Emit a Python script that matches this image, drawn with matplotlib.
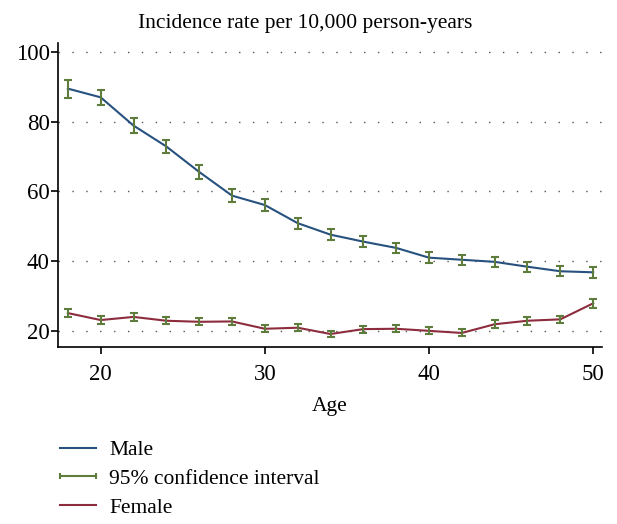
import matplotlib
matplotlib.use('Agg')
import matplotlib.pyplot as plt
from matplotlib.lines import Line2D
import numpy as np

# Data
ages = [18, 20, 22, 24, 26, 28, 30, 32, 34, 36, 38, 40, 42, 44, 46, 48, 50]
male = [89.5, 87.0, 78.9, 72.9, 65.6, 58.8, 56.1, 50.9, 47.6, 45.6, 43.8, 41.0, 40.4, 39.8, 38.4, 37.1, 36.8]
male_ci = [2.6, 2.2, 2.1, 2.0, 1.9, 1.8, 1.7, 1.6, 1.6, 1.5, 1.5, 1.5, 1.5, 1.4, 1.4, 1.4, 1.5]
female = [25.1, 23.1, 24.0, 22.9, 22.6, 22.7, 20.6, 20.9, 19.1, 20.5, 20.6, 20.0, 19.4, 21.9, 22.9, 23.3, 27.9]
female_ci = [1.2, 1.1, 1.1, 1.0, 1.0, 1.0, 1.0, 1.0, 1.0, 1.0, 1.0, 1.0, 1.0, 1.1, 1.1, 1.1, 1.3]
yticks = [20, 40, 60, 80, 100]
xticks = [20, 30, 40, 50]

male_color = '#27517f'
female_color = '#8c2c3c'
ci_color = '#5e7d3c'

plt.rcParams['font.family'] = ['Liberation Serif', 'DejaVu Serif']

fig = plt.figure(figsize=(6.17, 5.24), dpi=100)
ax = fig.add_axes([0.094, 0.338, 0.882, 0.580])

# Horizontal dotted grid
for y in yticks:
    ax.axhline(y, color='#555555', linestyle=(0, (1, 9)), linewidth=1.0, zorder=0)

ax.plot(ages, male, color=male_color, linewidth=1.5, zorder=2)
ax.plot(ages, female, color=female_color, linewidth=1.5, zorder=2)
ax.errorbar(ages, male, yerr=male_ci, fmt='none', ecolor=ci_color,
            elinewidth=1.5, capsize=2.8, capthick=1.5, zorder=3)
ax.errorbar(ages, female, yerr=female_ci, fmt='none', ecolor=ci_color,
            elinewidth=1.5, capsize=2.8, capthick=1.5, zorder=3)

ax.set_xlim(17.4, 50.55)
ax.set_ylim(15.4, 102.6)
ax.set_xticks(xticks)
ax.set_yticks(yticks)
ax.tick_params(labelsize=16.5, length=5, width=1.2, direction='out')
ax.tick_params(axis='y', pad=1)
ax.tick_params(axis='x', pad=7)
for side in ['top', 'right']:
    ax.spines[side].set_visible(False)
for side in ['left', 'bottom']:
    ax.spines[side].set_linewidth(1.2)

ax.set_xlabel('Age', fontsize=15.5, labelpad=9)
fig.text(0.495, 0.956, 'Incidence rate per 10,000 person-years',
         ha='center', va='center', fontsize=15.5)

handles = [
    Line2D([], [], color=male_color, linewidth=1.5),
    Line2D([], [], color=ci_color, linewidth=1.5, marker='|', markersize=4, markeredgewidth=1.5),
    Line2D([], [], color=female_color, linewidth=1.5),
]
labels = ['Male', '95% confidence interval', 'Female']
fig.legend(handles, labels, loc='upper left', bbox_to_anchor=(0.086, 0.160),
           frameon=False, fontsize=15.5, handlelength=2.3, handletextpad=0.3,
           labelspacing=0.4, numpoints=2, borderpad=0, borderaxespad=0)

fig.savefig('out.png', dpi=100)
